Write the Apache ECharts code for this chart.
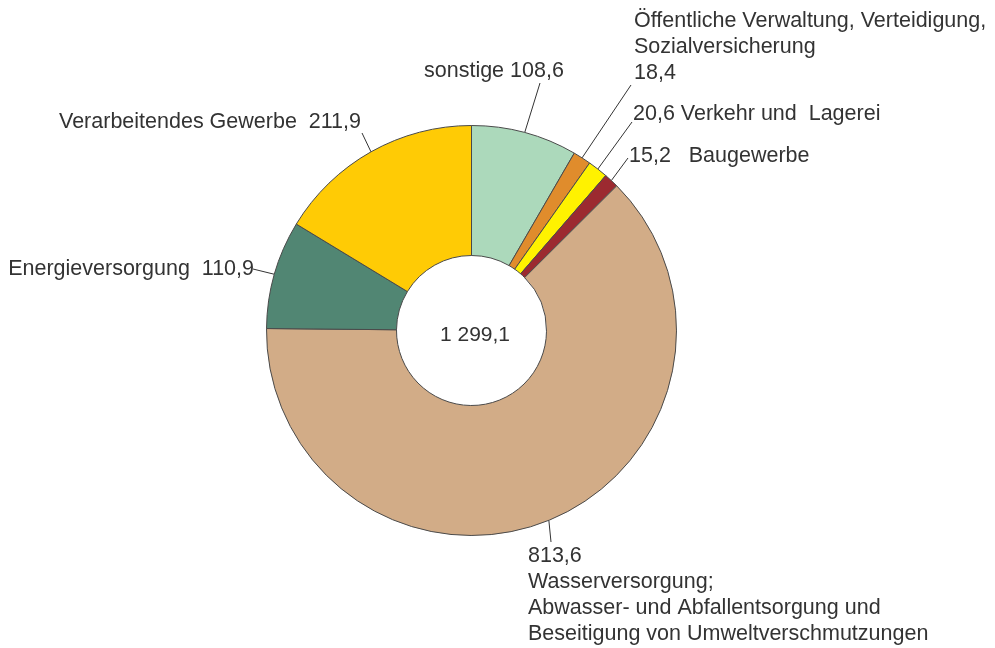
<!DOCTYPE html>
<html>
<head>
<meta charset="utf-8">
<script src="https://cdn.jsdelivr.net/npm/echarts@6/dist/echarts.min.js"></script>
<style>
  html, body { margin: 0; padding: 0; background: #fff; }
  #chart { width: 995px; height: 648px; }
</style>
</head>
<body>
<div id="chart"></div>
<script>
// Werte (Mio. EUR) – Reihenfolge im Uhrzeigersinn ab 12 Uhr
const categories = [
  'sonstige',
  'Öffentliche Verwaltung, Verteidigung,\nSozialversicherung',
  'Verkehr und  Lagerei',
  'Baugewerbe',
  'Wasserversorgung;\nAbwasser- und Abfallentsorgung und\nBeseitigung von Umweltverschmutzungen',
  'Energieversorgung',
  'Verarbeitendes Gewerbe'
]
const values = [108.6, 18.4, 20.6, 15.2, 813.6, 110.9, 211.9]
const totalLabel = '1 299,1'

const colors = ['#acd9bb', '#e08c2c', '#fff200', '#9c2a30', '#d2ac87', '#518673', '#ffcb05']

const fmt = v => String(v).replace('.', ',')

// Beschriftungstexte je Segment
const labelTexts = [
  c => 'sonstige ' + fmt(c.value),
  c => c.name + '\n' + fmt(c.value),
  c => fmt(c.value) + ' ' + c.name,
  c => fmt(c.value) + '   ' + c.name,
  c => fmt(c.value) + '\n' + c.name,
  c => c.name + '  ' + fmt(c.value),
  c => c.name + '  ' + fmt(c.value)
]

// Lage der Beschriftungen: [x, y, align, Endpunkt Linie x, y]
const labelPos = [
  [424, 71, 'left', 540, 83],
  [634, 47, 'left', 631, 85],
  [633, 114, 'left', 632, 122],
  [629, 156, 'left', 628, 158],
  [528, 595, 'left', 551, 542],
  [254, 269, 'right', 253, 269],
  [361, 122, 'right', 362, 133]
]

const cx = 471.5, cy = 330.5, rOut = 205, rIn = 75
const total = values.reduce((a, b) => a + b, 0)

// Startpunkt der Linie am Außenrand, mittig im Segment
function edgePoint(idx) {
  let before = 0
  for (let i = 0; i < idx; i++) before += values[i]
  const mid = (before + values[idx] / 2) / total * Math.PI * 2
  return [cx + rOut * Math.sin(mid), cy - rOut * Math.cos(mid)]
}

const chart = echarts.init(document.getElementById('chart'))

const option = {
  animation: false,
  graphic: [{
    type: 'text',
    x: 475, y: 335,
    style: {
      text: totalLabel,
      align: 'center',
      verticalAlign: 'middle',
      fontSize: 21,
      fontFamily: 'Liberation Sans, Arial, sans-serif',
      fill: '#333'
    },
    z: 10
  }],
  series: [{
    type: 'pie',
    center: [cx, cy],
    radius: [rIn, rOut],
    startAngle: 90,
    clockwise: true,
    avoidLabelOverlap: false,
    data: categories.map((name, i) => ({
      name: name,
      value: values[i],
      itemStyle: { color: colors[i] }
    })),
    itemStyle: { borderColor: '#4a4a4a', borderWidth: 1 },
    label: {
      show: true,
      position: 'outside',
      formatter: p => labelTexts[p.dataIndex](p),
      fontSize: 21.5,
      lineHeight: 26,
      fontFamily: 'Liberation Sans, Arial, sans-serif',
      color: '#333'
    },
    labelLine: {
      show: true,
      length: 10,
      length2: 10,
      lineStyle: { color: '#333', width: 1 }
    },
    labelLayout: params => {
      const p = labelPos[params.dataIndex]
      const start = edgePoint(params.dataIndex)
      const end = [p[3], p[4]]
      return {
        x: p[0],
        y: p[1],
        align: p[2],
        verticalAlign: 'middle',
        labelLinePoints: [start, end, end]
      }
    },
    emphasis: { disabled: true }
  }]
}

chart.setOption(option)
</script>
</body>
</html>
